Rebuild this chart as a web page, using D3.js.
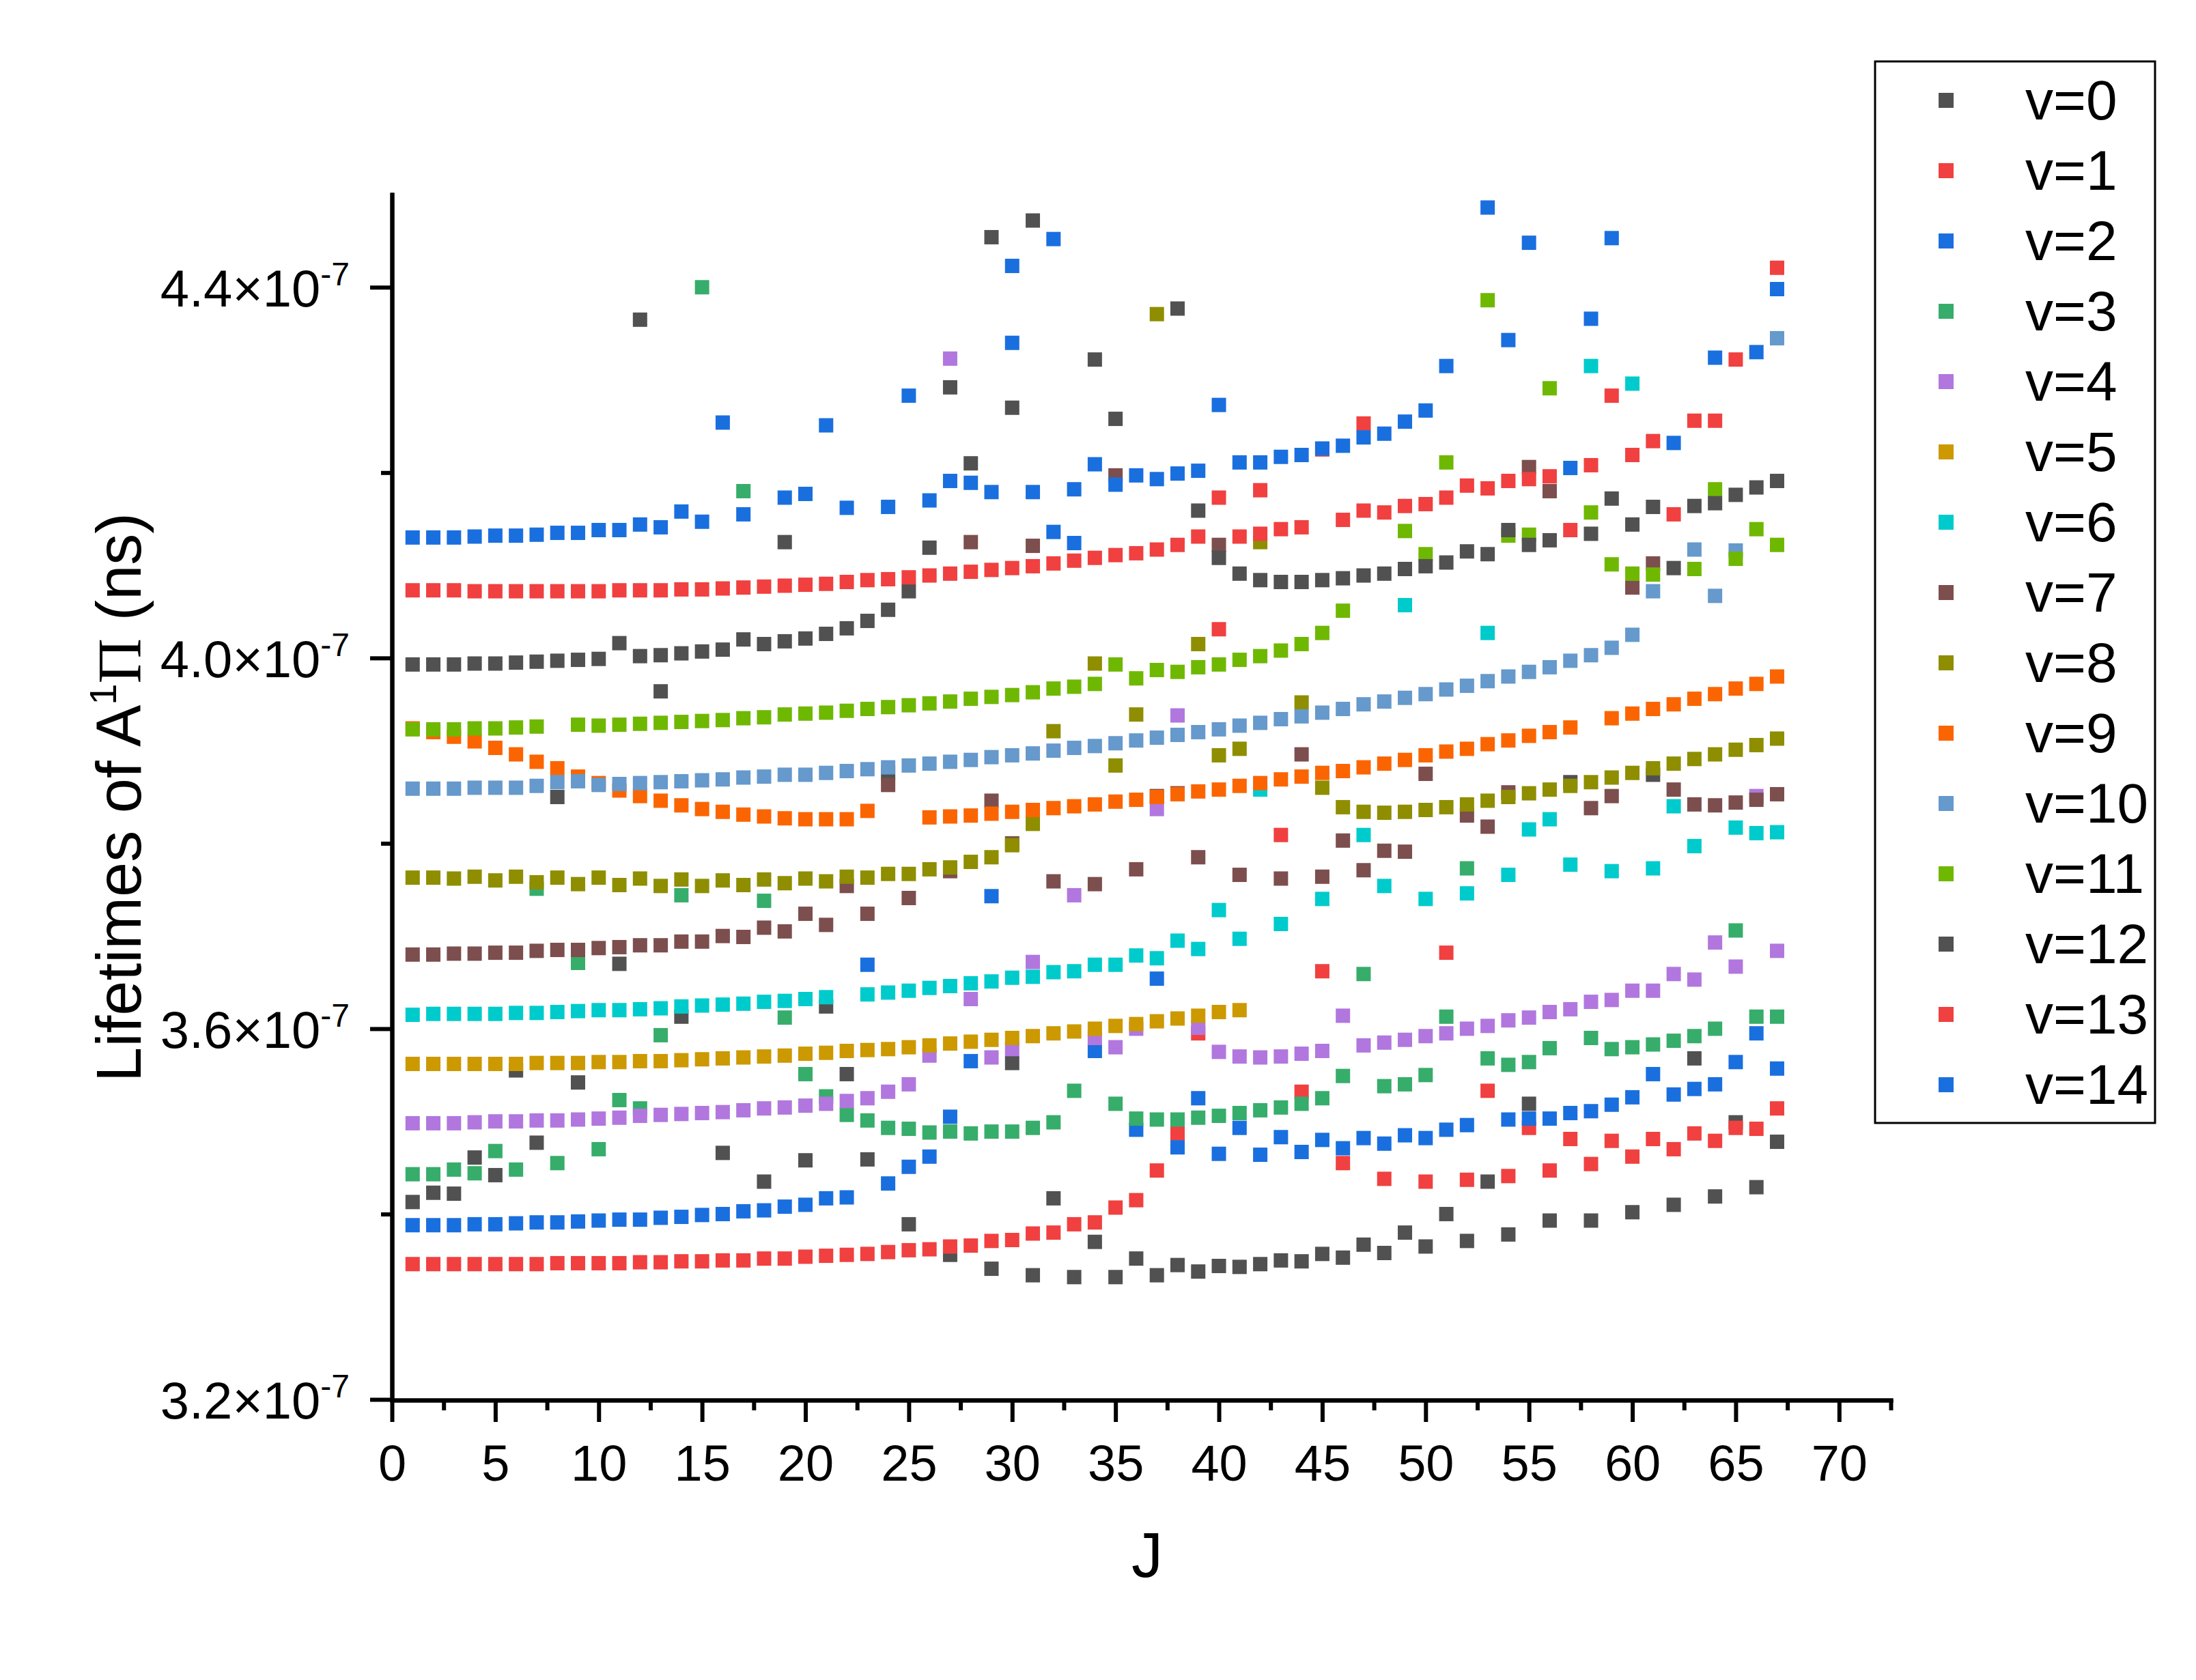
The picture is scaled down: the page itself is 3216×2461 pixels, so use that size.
<!DOCTYPE html>
<html>
<head>
<meta charset="utf-8">
<script src="https://cdn.jsdelivr.net/npm/d3@7/dist/d3.min.js"></script>
<style>
  body { margin: 0; background: #ffffff; }
  text { font-family: "Liberation Sans", Arial, sans-serif; fill: #000; }
</style>
</head>
<body>
<svg id="chart" width="3216" height="2461"></svg>
<script>
// lifetimes in units of 1e-7 s ; index 0 is J=1, index 66 is J=67
var J = d3.range(1, 68);

var v0 = [3.413,3.423,3.422,3.461,3.442,3.555,3.477,3.850,3.542,null,
  3.670,4.365,3.964,3.613,null,3.466,null,3.435,4.125,3.458,
  3.624,3.551,3.459,3.876,3.389,null,3.356,null,3.341,3.563,
  3.334,3.417,3.332,3.370,3.332,3.352,3.334,3.345,3.338,3.344,
  3.343,3.346,3.350,3.349,3.357,3.353,3.367,3.358,3.380,3.365,
  3.400,3.371,3.435,3.378,3.519,3.393,3.866,3.393,null,3.402,
  3.874,3.410,3.568,3.419,3.499,3.429,3.478];

var v1 = [3.346,3.346,3.346,3.346,3.346,3.346,3.346,3.347,3.347,3.347,
  3.347,3.348,3.348,3.349,3.349,3.350,3.350,3.352,3.352,3.354,
  3.355,3.356,3.357,3.359,3.361,3.362,3.365,3.366,3.371,3.372,
  3.379,3.380,3.389,3.391,3.407,3.415,3.447,3.487,3.595,4.031,
  null,4.181,3.809,3.532,3.662,3.455,4.253,3.438,null,3.435,
  3.682,3.437,3.533,3.441,3.493,3.447,3.481,3.454,3.479,3.462,
  3.481,3.470,3.487,3.479,3.493,3.492,3.514];

var v2 = [3.388,3.388,3.388,3.389,3.389,3.390,3.391,3.391,3.392,3.393,
  3.394,3.394,3.396,3.397,3.399,3.400,3.403,3.404,3.408,3.410,
  3.417,3.418,3.669,3.433,3.451,3.462,3.505,3.565,3.743,4.423,
  null,4.452,4.124,3.576,null,3.491,3.654,3.472,3.525,3.465,
  3.493,3.464,3.483,3.467,3.480,3.471,3.482,3.476,3.485,3.482,
  3.491,3.496,4.486,3.502,3.503,3.503,3.509,3.511,3.518,3.526,
  3.551,3.529,3.535,3.540,3.564,3.595,3.557];

var v3 = [3.443,3.443,3.448,3.444,3.468,3.448,3.751,3.455,3.671,3.470,
  3.523,3.514,3.593,3.744,4.400,null,4.180,3.738,3.612,3.551,
  3.527,3.507,3.501,3.493,3.492,3.488,3.489,3.487,3.489,3.489,
  3.493,3.499,3.533,null,3.519,3.503,3.502,3.502,3.504,3.506,
  3.509,3.512,3.515,3.519,3.525,3.549,3.659,3.538,3.540,3.550,
  3.613,3.773,3.568,3.561,3.564,3.579,null,3.590,3.578,3.580,
  3.583,3.587,3.592,3.600,3.706,3.613,3.613];

var v4 = [3.498,3.498,3.498,3.499,3.500,3.500,3.501,3.501,3.502,3.503,
  3.504,3.506,3.507,3.508,3.509,3.510,3.512,3.514,3.515,3.517,
  3.519,3.522,3.525,3.532,3.540,3.571,4.323,3.632,3.569,3.578,
  3.672,null,3.744,3.590,3.580,3.600,3.837,3.938,3.601,3.575,
  3.570,3.569,3.570,3.573,3.576,3.614,3.582,3.585,3.588,3.592,
  3.595,3.600,3.603,3.609,3.612,3.618,3.621,3.629,3.631,3.641,
  3.641,3.659,3.653,3.693,3.667,3.851,3.684];

var v5 = [3.562,3.562,3.562,3.562,3.562,3.562,3.563,3.563,3.563,3.564,
  3.564,3.565,3.565,3.566,3.567,3.568,3.569,3.570,3.571,3.573,
  3.574,3.576,3.577,3.578,3.580,3.582,3.584,3.586,3.588,3.590,
  3.592,3.595,3.597,3.600,3.603,3.605,3.608,3.611,3.614,3.618,
  3.620,null,null,null,null,null,null,null,null,null,
  null,null,null,null,null,null,null,null,null,null,
  null,null,null,null,null,null,null];

var v6 = [3.615,3.616,3.616,3.616,3.616,3.617,3.617,3.618,3.619,3.620,
  3.620,3.621,3.622,3.624,3.625,3.626,3.627,3.629,3.630,3.632,
  3.634,null,3.637,3.639,3.641,3.644,3.646,3.649,3.651,3.655,
  3.656,3.661,3.662,3.669,3.669,3.679,3.676,3.695,3.686,3.728,
  3.697,3.858,3.713,null,3.740,null,3.809,3.754,4.057,3.740,
  null,3.746,4.027,3.766,3.815,3.826,3.777,4.315,3.770,4.296,
  3.773,3.840,3.797,null,3.817,3.811,3.812];

var v7 = [3.680,3.680,3.681,3.681,3.682,3.682,3.684,3.685,3.685,3.687,
  3.688,3.690,3.690,3.694,3.694,3.700,3.699,3.709,3.705,3.724,
  3.712,3.754,3.724,3.863,3.741,null,3.770,4.125,3.846,3.800,
  4.121,3.759,null,3.756,4.197,3.772,3.851,3.854,3.785,4.122,
  3.766,null,3.762,3.896,3.764,3.803,3.771,3.792,3.791,3.875,
  null,3.830,3.818,3.855,4.206,4.180,null,3.838,3.851,4.076,
  4.102,3.858,3.842,3.841,3.844,3.847,3.853];

var v8 = [3.763,3.763,3.762,3.764,3.760,3.764,3.758,3.763,3.756,3.763,
  3.755,3.762,3.754,3.761,3.754,3.760,3.755,3.761,3.757,3.762,
  3.759,3.764,3.763,3.767,3.767,3.772,3.774,3.780,3.785,3.798,
  3.821,3.921,null,3.994,3.884,3.939,4.371,null,4.015,3.895,
  3.902,4.125,null,3.952,3.860,3.839,3.834,3.833,3.834,3.836,
  3.839,3.842,3.846,3.850,3.854,3.858,3.862,3.866,3.871,3.876,
  3.881,3.886,3.891,3.896,3.901,3.906,3.913];

var v9 = [3.924,3.920,3.915,3.910,3.903,3.896,3.888,3.881,3.872,3.865,
  3.857,3.851,3.846,3.841,3.837,3.834,3.831,3.829,3.827,3.826,
  3.826,3.826,3.835,null,null,3.828,3.829,3.830,3.832,3.834,
  3.836,3.838,3.840,3.842,3.845,3.847,3.850,3.853,3.856,3.858,
  3.862,3.865,3.869,3.872,3.876,3.878,3.882,3.886,3.890,3.895,
  3.899,3.902,3.907,3.911,3.916,3.920,3.925,null,3.935,3.940,
  3.945,3.950,3.956,3.961,3.967,3.972,3.980];

var v10 = [3.859,3.859,3.859,3.860,3.860,3.860,3.862,3.866,3.867,3.863,
  3.864,3.865,3.866,3.867,3.868,3.869,3.871,3.872,3.874,3.874,
  3.876,3.878,3.880,3.882,3.884,3.886,3.888,3.890,3.893,3.895,
  3.897,3.900,3.903,3.905,3.908,3.911,3.914,3.917,3.920,3.923,
  3.927,3.930,3.934,3.937,3.941,3.945,3.950,3.953,3.957,3.961,
  3.966,3.970,3.975,3.980,3.985,3.990,3.997,4.003,4.011,4.025,
  4.072,null,4.117,4.067,4.116,null,4.345];

var v11 = [3.923,3.923,3.923,3.924,3.924,3.925,3.926,null,3.928,3.927,
  3.928,3.929,3.930,3.931,3.932,3.933,3.935,3.936,3.939,3.940,
  3.941,3.943,3.945,3.947,3.949,3.951,3.953,3.956,3.958,3.960,
  3.963,3.967,3.969,3.972,3.993,3.978,3.987,3.985,3.990,3.993,
  3.998,4.002,4.008,4.015,4.027,4.051,null,null,4.137,4.112,
  4.211,null,4.386,4.132,4.133,4.291,null,4.157,4.101,4.091,
  4.090,null,4.096,4.182,4.107,4.139,4.122];

var v12 = [3.993,3.993,3.993,3.994,3.994,3.995,3.996,3.997,3.998,3.999,
  4.016,4.002,4.003,4.005,4.007,4.009,4.020,4.015,4.018,4.021,
  4.026,4.032,4.040,4.052,4.072,4.119,4.292,4.210,4.454,4.270,
  4.472,null,null,4.322,4.258,null,null,4.377,4.159,4.108,
  4.091,4.084,4.082,4.082,4.084,4.086,4.089,4.091,4.096,4.099,
  4.103,4.115,4.112,4.138,4.122,4.127,null,4.134,4.172,4.144,
  4.163,4.097,4.164,4.167,4.176,4.184,4.191];

var v13 = [4.073,4.073,4.073,4.072,4.072,4.072,4.072,4.072,4.072,4.072,
  4.073,4.073,4.073,4.074,4.074,4.075,4.076,4.077,4.078,4.079,
  4.080,4.082,4.084,4.085,4.087,4.089,4.091,4.093,4.095,4.097,
  4.099,4.102,4.105,4.108,4.111,4.113,4.117,4.122,4.131,4.173,
  4.131,4.134,4.139,4.141,4.225,4.149,4.159,4.157,4.164,4.166,
  4.173,4.186,4.183,4.191,4.193,4.196,4.138,4.208,4.283,4.219,
  4.234,4.155,4.256,4.256,4.322,null,4.421];

var v14 = [4.130,4.130,4.130,4.131,4.132,4.132,4.133,4.135,4.135,4.138,
  4.138,4.144,4.141,4.158,4.147,4.254,4.155,null,4.173,4.177,
  4.251,4.162,null,4.163,4.283,4.170,4.191,4.189,4.179,4.340,
  4.179,4.136,4.182,4.209,4.187,4.197,4.193,4.199,4.202,4.273,
  4.211,4.211,4.217,4.219,4.226,4.229,4.238,4.242,4.255,4.267,
  4.315,null,null,4.343,4.448,null,4.205,4.366,4.453,null,
  null,4.232,null,4.324,null,4.330,4.398];

var names = ['v=0','v=1','v=2','v=3','v=4','v=5','v=6','v=7',
  'v=8','v=9','v=10','v=11','v=12','v=13','v=14'];
var all_values = [v0,v1,v2,v3,v4,v5,v6,v7,v8,v9,v10,v11,v12,v13,v14];

var xTicks = d3.range(0, 71, 5);
var xMinor = d3.range(2.5, 73, 5);
var yTicks = [3.2, 3.6, 4.0, 4.4];
var yMinor = [3.4, 3.8, 4.2];

// origin default palette
var COLORS = ['#515151','#F14040','#1A6FDF','#37AD6B','#B177DE','#CC9900',
  '#00CBCC','#7D4E4E','#8E8E00','#FB6501','#6699CC','#6FB802',
  '#515151','#F14040','#1A6FDF'];

var MARK = 21;
var X0 = 574;

var svg = d3.select('#chart');
svg.append('rect')
  .attr('width', 3216)
  .attr('height', 2461)
  .attr('fill', '#ffffff');

var x = d3.scaleLinear()
  .domain([0, 72.5])
  .range([X0, 2769]);

var y = d3.scaleLinear()
  .domain([3.2, 4.5])
  .range([2050, 285]);

// ---- points
var series = all_values.map(function(vals, i){
  return {
    name: names[i],
    color: COLORS[i],
    points: J.map(function(j, k){ return {J: j, v: vals[k]}; })
             .filter(function(p){ return p.v != null; })
  };
});

var plot = svg.append('g').attr('id', 'points');
series.forEach(function(s){
  plot.append('g')
    .selectAll('rect')
    .data(s.points)
    .enter()
    .append('rect')
    .attr('x', d => x(d.J) - MARK/2)
    .attr('y', d => y(d.v) - MARK/2)
    .attr('width', MARK)
    .attr('height', MARK)
    .attr('fill', s.color);
});

// ---- axes
function styleAxis(g, w){
  g.select('.domain')
    .attr('stroke', '#000')
    .attr('stroke-width', w)
    .attr('stroke-linecap', 'square');
  g.selectAll('.tick line')
    .attr('stroke', '#000')
    .attr('stroke-width', w);
}

var xMinorAxis = svg.append('g')
  .attr('transform', 'translate(0,2051)')
  .call(d3.axisBottom(x).tickValues(xMinor).tickSize(15).tickSizeOuter(0).tickFormat(''));
styleAxis(xMinorAxis, 6);

var xAxis = svg.append('g')
  .attr('transform', 'translate(0,2051)')
  .call(d3.axisBottom(x).tickValues(xTicks).tickSize(32).tickSizeOuter(0).tickPadding(33));
styleAxis(xAxis, 6);
xAxis.selectAll('.tick text')
  .attr('font-size', 74)
  .attr('font-family', '"Liberation Sans", Arial, sans-serif');

var yMinorAxis = svg.append('g')
  .attr('transform', 'translate(' + X0 + ',0)')
  .call(d3.axisLeft(y).tickValues(yMinor).tickSize(16).tickSizeOuter(0).tickFormat(''));
styleAxis(yMinorAxis, 6);

var yAxis = svg.append('g')
  .attr('transform', 'translate(' + X0 + ',0)')
  .call(d3.axisLeft(y).tickValues(yTicks).tickSize(32).tickSizeOuter(0).tickPadding(30));
styleAxis(yAxis, 6);

yAxis.selectAll('.tick text')
  .attr('font-size', 76)
  .attr('font-family', '"Liberation Sans", Arial, sans-serif')
  .attr('dy', '0.36em')
  .each(function(d){
    var t = d3.select(this);
    t.text(null);
    t.append('tspan').text(d3.format('.1f')(d) + '\u00d710');
    t.append('tspan')
      .attr('font-size', 48)
      .attr('dy', -31)
      .text('-7');
  });

// ---- axis titles
svg.append('text')
  .attr('x', 1680)
  .attr('y', 2310)
  .attr('text-anchor', 'middle')
  .attr('font-size', 92)
  .text('J');

var ytitle = svg.append('text')
  .attr('transform', 'translate(206,1168) rotate(-90)')
  .attr('text-anchor', 'middle')
  .attr('font-size', 92);
ytitle.append('tspan').text('Lifetimes of A');
ytitle.append('tspan')
  .attr('font-size', 56)
  .attr('dy', -36)
  .text('1');
ytitle.append('tspan')
  .attr('font-family', '"Liberation Serif", "Times New Roman", serif')
  .attr('dy', 36)
  .text('\u03a0');
ytitle.append('tspan').text(' (ns)');

// ---- legend
var legend = svg.append('g').attr('id', 'legend');
legend.append('rect')
  .attr('x', 2746)
  .attr('y', 90)
  .attr('width', 410)
  .attr('height', 1555)
  .attr('fill', 'none')
  .attr('stroke', '#000')
  .attr('stroke-width', 3);

var rows = legend.selectAll('.legend_row')
  .data(series)
  .enter()
  .append('g')
  .attr('class', 'legend_row')
  .attr('transform', (d, i) => 'translate(0,' + (147 + i*103) + ')');

rows.append('rect')
  .attr('x', 2850 - 11)
  .attr('y', -11)
  .attr('width', 22)
  .attr('height', 22)
  .attr('fill', d => d.color);

rows.append('text')
  .attr('x', 2966)
  .attr('y', 28)
  .attr('font-size', 82)
  .text(d => d.name);
</script>
</body>
</html>
